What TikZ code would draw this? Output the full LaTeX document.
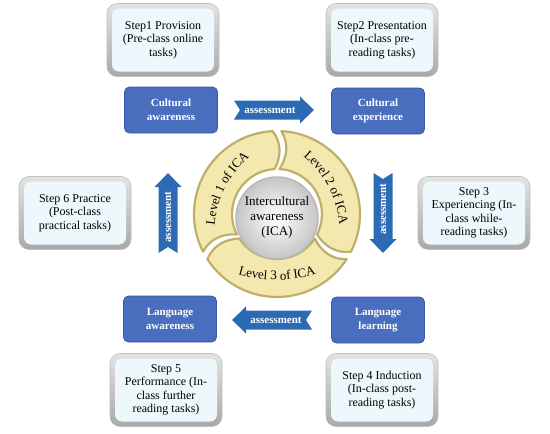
\documentclass[tikz,border=0pt]{standalone}
\usepackage{fontspec}
\setmainfont{Liberation Serif}
\usetikzlibrary{calc,decorations.text}
\definecolor{stepfill}{HTML}{EEF8FC}
\definecolor{bluebox}{HTML}{4A6EBE}
\definecolor{blueedge}{HTML}{3558A8}
\definecolor{arrowblue}{HTML}{2D6AB4}
\definecolor{ringfill}{HTML}{F3E8AE}
\definecolor{ringedge}{HTML}{BFAE6C}
\begin{document}
\begin{tikzpicture}[x=1pt,y=1pt,
  stepbox/.style={rounded corners=10pt, minimum width=112pt, minimum height=73pt,
    align=center, inner sep=2pt, font=\fontsize{12}{13.5}\selectfont,
    top color=gray!22, bottom color=gray!68, draw=gray!50, line width=0.6pt,
    path picture={\fill[stepfill, rounded corners=7pt]
      ([shift={(5pt,5pt)}]path picture bounding box.south west) rectangle
      ([shift={(-5pt,-5pt)}]path picture bounding box.north east);}},
  bluenode/.style={rounded corners=5pt, minimum width=93pt, minimum height=46pt,
    align=center, fill=bluebox, draw=blueedge, line width=0.8pt, text=white,
    font=\fontsize{11}{14}\selectfont\bfseries},
  asstext/.style={text=white, font=\fontsize{11}{12}\selectfont\bfseries, inner sep=1pt},
  assarrow/.pic={\fill[arrowblue] (-40,9.5) -- (26,9.5) -- (26,13.5) -- (40,0) -- (26,-13.5)
    -- (26,-9.5) -- (-40,-9.5) -- (-34,0) -- cycle;},
  seg/.style={fill=ringfill, draw=ringedge, line width=2.2pt, line join=round},
  ringtext/.style={decorate, decoration={text along path, text align=center,
    text format delimiters={|}{|}, text={|\fontsize{13}{15}\selectfont|#1}}}
]
\useasboundingbox (0,0) rectangle (550,-434);

% step boxes
\node[stepbox] (s1) at (163,-40) {Step1 Provision\\(Pre-class online\\tasks)};
\node[stepbox] (s2) at (382,-40) {Step2 Presentation\\(In-class pre-\\reading tasks)};
\node[stepbox] (s3) at (474,-213) {Step 3\\Experiencing (In-\\class while-\\reading tasks)};
\node[stepbox] (s4) at (382,-390) {Step 4 Induction\\(In-class post-\\reading tasks)};
\node[stepbox] (s5) at (166,-390) {Step 5\\Performance (In-\\class further\\reading tasks)};
\node[stepbox] (s6) at (75,-213) {Step 6 Practice\\(Post-class\\practical tasks)};

% blue boxes
\node[bluenode] (b1) at (171,-110) {Cultural\\awareness};
\node[bluenode] (b2) at (378,-111) {Cultural\\experience};
\node[bluenode] (b3) at (378,-320) {Language\\learning};
\node[bluenode] (b4) at (170,-319) {Language\\awareness};

% assessment arrows
\pic at (274,-110) {assarrow};
\node[asstext] (t1) at (270,-110) {assessment};
\pic[rotate=180] at (272,-320) {assarrow};
\node[asstext] (t2) at (276,-320) {assessment};
\pic[rotate=-90] at (383,-213) {assarrow};
\node[asstext, rotate=90] (t3) at (383,-209) {assessment};
\pic[rotate=90] at (168,-213) {assarrow};
\node[asstext, rotate=90] (t4) at (168,-217) {assessment};

% ring
\coordinate (C) at (277,-214);
\def\R{83}\def\r{45}\def\w{3}
\foreach \a/\b in {90/210, 210/330, -30/90}{
  \pgfmathsetmacro\sa{\a+\w}
  \pgfmathsetmacro\eb{\b-\w}
  \pgfmathsetmacro\sac{\a+\w-7}
  \pgfmathsetmacro\ebc{\b-\w-7}
  \draw[seg] ($(C)+(\sa:\R pt)$) arc[start angle=\sa, end angle=\eb, radius=\R pt]
    .. controls ($(C)+(\ebc:\R pt-12pt)$) and ($(C)+(\ebc:\r pt+12pt)$) .. ($(C)+(\eb:\r pt)$)
    arc[start angle=\eb, end angle=\sa, radius=\r pt]
    .. controls ($(C)+(\sac:\r pt+12pt)$) and ($(C)+(\sac:\R pt-12pt)$) .. cycle;
}
\fill[inner color=white, outer color=gray!45] ($(C)+(0,-4)$) circle[radius=41pt];
\draw[gray!55, line width=1.5pt] ($(C)+(0,-4)$) circle[radius=41pt];
\node[align=center, font=\fontsize{13}{15}\selectfont] (ica) at ($(C)+(0,-3)$) {Intercultural\\awareness\\(ICA)};
% ring labels along gently curved arcs
\coordinate (C1) at ($(C)+(333:42pt)$);
\path[ringtext={Level 1 of ICA}] ($(C1)+(183:100pt)$) arc[start angle=183, end angle=123, radius=100pt];
\coordinate (C2) at ($(C)+(208:42pt)$);
\path[ringtext={Level 2 of ICA}] ($(C2)+(58:100pt)$) arc[start angle=58, end angle=-2, radius=100pt];
\coordinate (C3) at ($(C)+(0,64)$);
\path[ringtext={Level 3 of ICA}] ($(C3)+(245:130pt)$) arc[start angle=245, end angle=295, radius=130pt];
\end{tikzpicture}
\end{document}
